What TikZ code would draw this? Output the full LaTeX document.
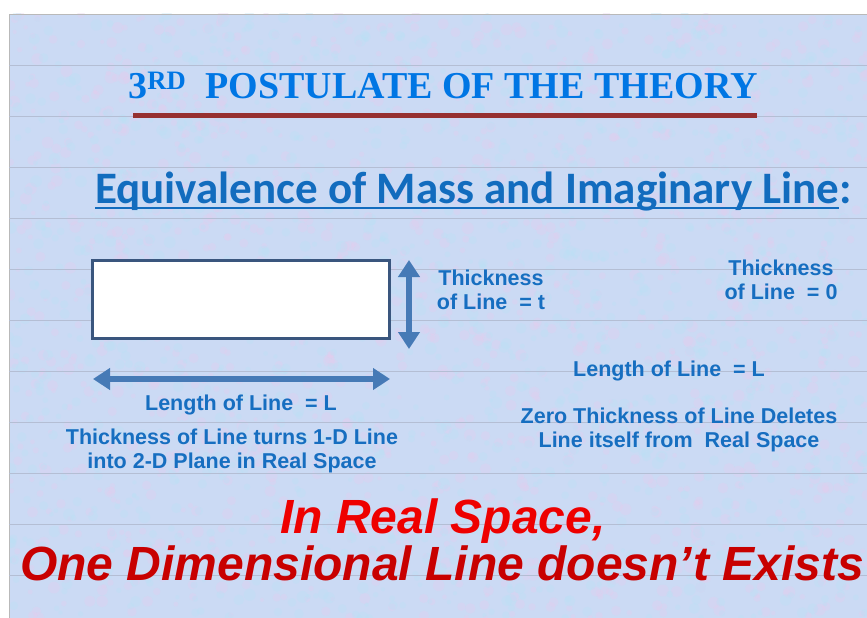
\documentclass[tikz,border=0pt]{standalone}
\usepackage{fontspec}
\setmainfont{Liberation Sans}
\newfontfamily\titlefont{Liberation Serif}
\newfontfamily\headfont{Carlito}
\usetikzlibrary{arrows.meta, positioning}

\definecolor{slidebg}{RGB}{203,218,244}
\definecolor{speckpink}{RGB}{230,204,238}
\definecolor{speckcyan}{RGB}{184,226,246}
\definecolor{ruleline}{RGB}{180,190,212}
\definecolor{titleblue}{RGB}{0,118,228}
\definecolor{barred}{RGB}{150,48,48}
\definecolor{headblue}{RGB}{18,108,190}
\definecolor{labelblue}{RGB}{22,110,192}
\definecolor{arrowblue}{RGB}{70,122,182}
\definecolor{boxedge}{RGB}{58,86,126}
\definecolor{brightred}{RGB}{238,0,0}
\definecolor{darkred}{RGB}{200,0,0}

\begin{document}
\begin{tikzpicture}[x=1pt, y=-1pt,
    label-text/.style={text=labelblue, font=\fontsize{21.5}{24}\selectfont\bfseries, align=center, inner sep=0pt},
    red-text/.style={font=\fontsize{48}{48}\selectfont\bfseries\itshape, inner sep=0pt},
    dim-arrow/.style={draw=arrowblue, line width=6.5pt, {Triangle[width=21pt,length=17pt]}-{Triangle[width=21pt,length=17pt]}},
    plane-box/.style={draw=boxedge, line width=2.2pt, fill=white, minimum width=297pt, minimum height=78pt, inner sep=0pt}
]

    \useasboundingbox (0,0) rectangle (867,618);
    \fill[white] (0,0) rectangle (867,618);
    \fill[slidebg] (9,14) rectangle (867,618);

    % mottled paper
    \begin{scope}
        \clip (9,14) rectangle (867,618);
        \pgfmathsetseed{17}
        \foreach \k in {1,...,1400}{
            \pgfmathsetmacro{\bx}{9+rnd*858}
            \pgfmathsetmacro{\by}{14+rnd*604}
            \pgfmathsetmacro{\br}{2+rnd*4}
            \fill[speckpink, opacity=0.3] (\bx,\by) circle[radius=\br];
        }
        \foreach \k in {1,...,1400}{
            \pgfmathsetmacro{\bx}{9+rnd*858}
            \pgfmathsetmacro{\by}{14+rnd*604}
            \pgfmathsetmacro{\br}{2+rnd*4}
            \fill[speckcyan, opacity=0.3] (\bx,\by) circle[radius=\br];
        }
    \end{scope}
    \draw[gray!55, line width=0.6pt] (867,14) -- (9,14) -- (9,618);

    % faint ruled lines
    \foreach \ry in {65,116,...,575}
        \draw[ruleline, line width=0.5pt] (9,\ry) -- (867,\ry);

    % title
    \node[anchor=base, text=titleblue, inner sep=0pt, font=\titlefont\fontsize{38}{38}\selectfont\bfseries] (title) at (443,99) {3\textsuperscript{RD}\ \ POSTULATE OF THE THEORY};
    \coordinate (barL) at (133,115.5);
    \coordinate (barR) at (757,115.5);
    \draw[barred, line width=5pt] (barL) -- (barR);

    % heading
    \node[anchor=base west, text=headblue, inner sep=0pt, font=\headfont\fontsize{45}{45}\selectfont\bfseries] (equiv) at (95,203) {Equivalence of Mass and Imaginary Line};
    \node[anchor=base west, text=headblue, inner sep=0pt, font=\headfont\fontsize{45}{45}\selectfont\bfseries] (colon) at (equiv.base east) {:};
    \draw[headblue, line width=2.2pt] ([yshift=-5pt]equiv.base west) -- ([yshift=-5pt]equiv.base east);

    % left side: line with thickness t
    \node[plane-box] (plane) at (241,299.5) {};
    \coordinate (tTop) at (409,260);
    \coordinate (tBot) at (409,349);
    \draw[dim-arrow] (tTop) -- (tBot);
    \coordinate (lLeft) at (93,379);
    \coordinate (lRight) at (390,379);
    \draw[dim-arrow] (lLeft) -- (lRight);

    \node[label-text] (thickT) at (491,290) {Thickness\\of Line\ \ = t};
    \node[label-text] (lengthA) at (241,405) {Length of Line\ \ = L};
    \node[label-text] (turns) at (232,451) {Thickness of Line turns 1-D Line\\into 2-D Plane in Real Space};

    % right side: line with zero thickness
    \node[label-text] (thickZ) at (781,280) {Thickness\\of Line\ \ = 0};
    \node[label-text] (lengthB) at (669,371) {Length of Line\ \ = L};
    \node[label-text] (zero) at (679,430) {Zero Thickness of Line Deletes\\Line itself from\ \ Real Space};

    % conclusion
    \node[red-text, text=brightred, anchor=base] (real) at (443,533) {In Real Space,};
    \node[red-text, text=darkred, anchor=base] (oneD) at (442,580) {One Dimensional Line doesn’t Exists};

\end{tikzpicture}
\end{document}
